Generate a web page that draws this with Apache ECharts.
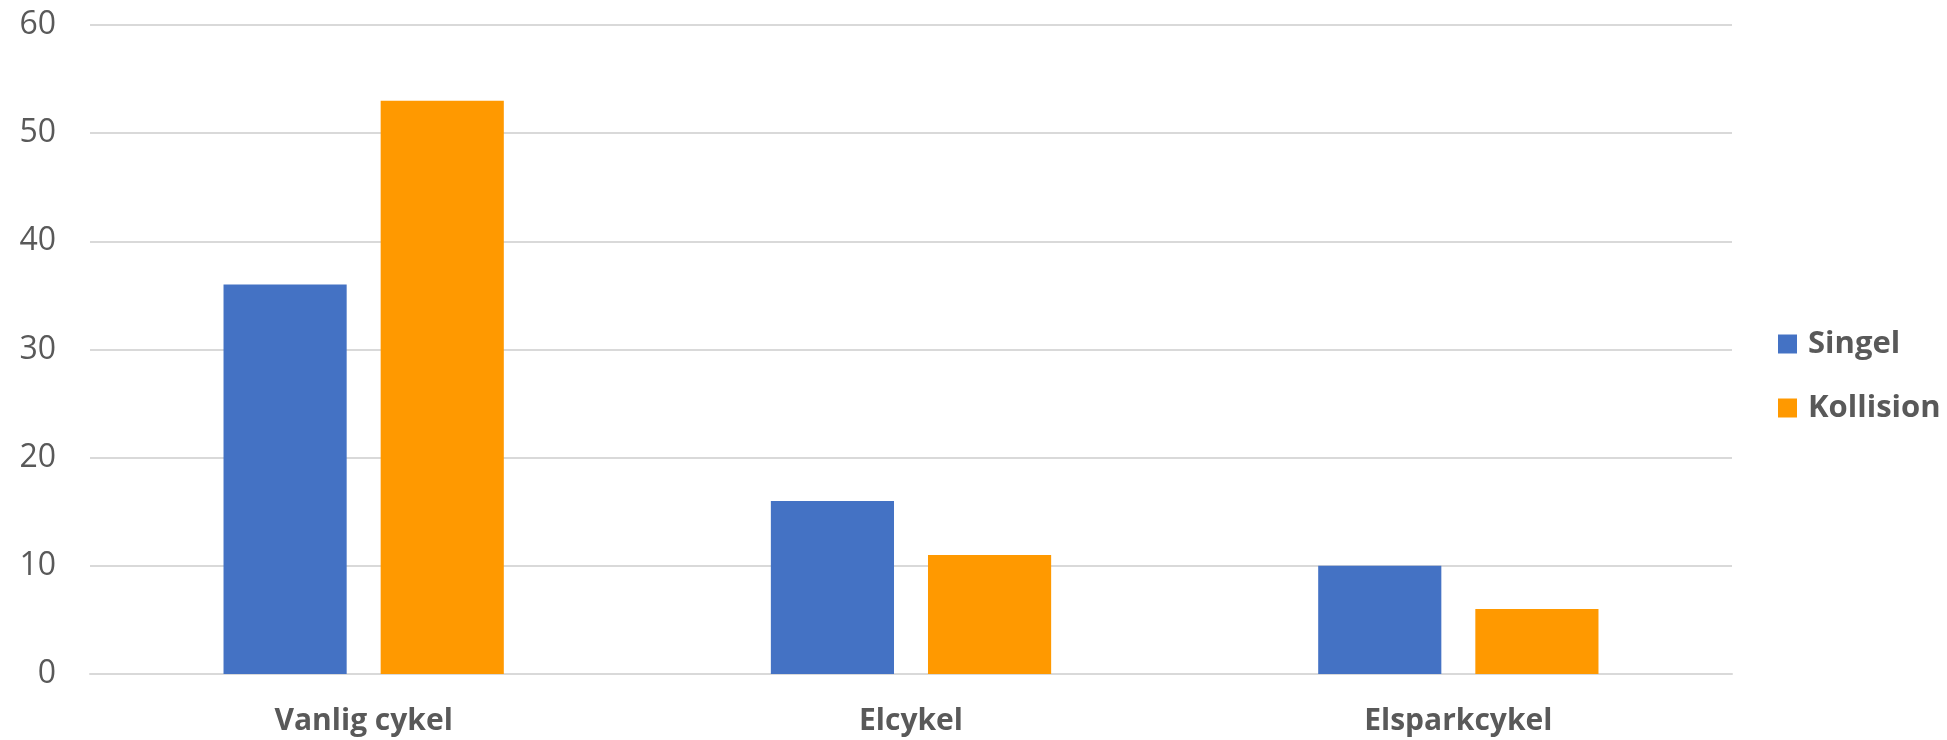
<!DOCTYPE html>
<html>
<head>
<meta charset="utf-8">
<script src="https://cdn.jsdelivr.net/npm/echarts@6/dist/echarts.min.js"></script>
<style>
html,body{margin:0;padding:0;background:#fff;}
#chart{width:1947px;height:740px;}
</style>
</head>
<body>
<div id="chart"></div>
<script>
const categories = ["Vanlig cykel", "Elcykel", "Elsparkcykel"];
const seriesNames = ["Singel", "Kollision"];
const singel = [36, 16, 10];
const kollision = [53, 11, 6];
const yTicks = [0, 10, 20, 30, 40, 50, 60];

const chart = echarts.init(document.getElementById('chart'));
const font = '"Open Sans", "DejaVu Sans", sans-serif';
chart.setOption({
  animation: false,
  backgroundColor: '#ffffff',
  grid: { left: 90, right: 215, top: 25, bottom: 66, containLabel: false },
  legend: {
    orient: 'vertical',
    left: 1778,
    top: 327,
    padding: 0,
    itemWidth: 19,
    itemHeight: 19,
    itemGap: 30,
    icon: 'rect',
    textStyle: { fontFamily: font, fontSize: 31, fontWeight: 'bold', color: '#595959', lineHeight: 34, padding: [0,0,0,6] },
    data: seriesNames
  },
  xAxis: {
    type: 'category',
    data: categories,
    axisLine: { show: true, lineStyle: { color: '#d9d9d9', width: 2 } },
    axisTick: { show: false },
    axisLabel: { fontFamily: font, fontSize: 30, fontWeight: 'bold', color: '#595959', margin: 32 }
  },
  yAxis: {
    type: 'value',
    min: yTicks[0],
    max: yTicks[yTicks.length - 1],
    interval: 10,
    axisLine: { show: false },
    axisTick: { show: false },
    splitLine: { lineStyle: { color: '#d9d9d9', width: 2 } },
    axisLabel: { fontFamily: font, fontSize: 32, color: '#595959', margin: 34 }
  },
  series: [
    { name: seriesNames[0], type: 'bar', data: singel, barWidth: '22.5%', barGap: '27.6%',
      itemStyle: { color: '#4472C4' } },
    { name: seriesNames[1], type: 'bar', data: kollision, barWidth: '22.5%', barGap: '27.6%',
      itemStyle: { color: '#FF9900' } }
  ]
});
</script>
</body>
</html>
